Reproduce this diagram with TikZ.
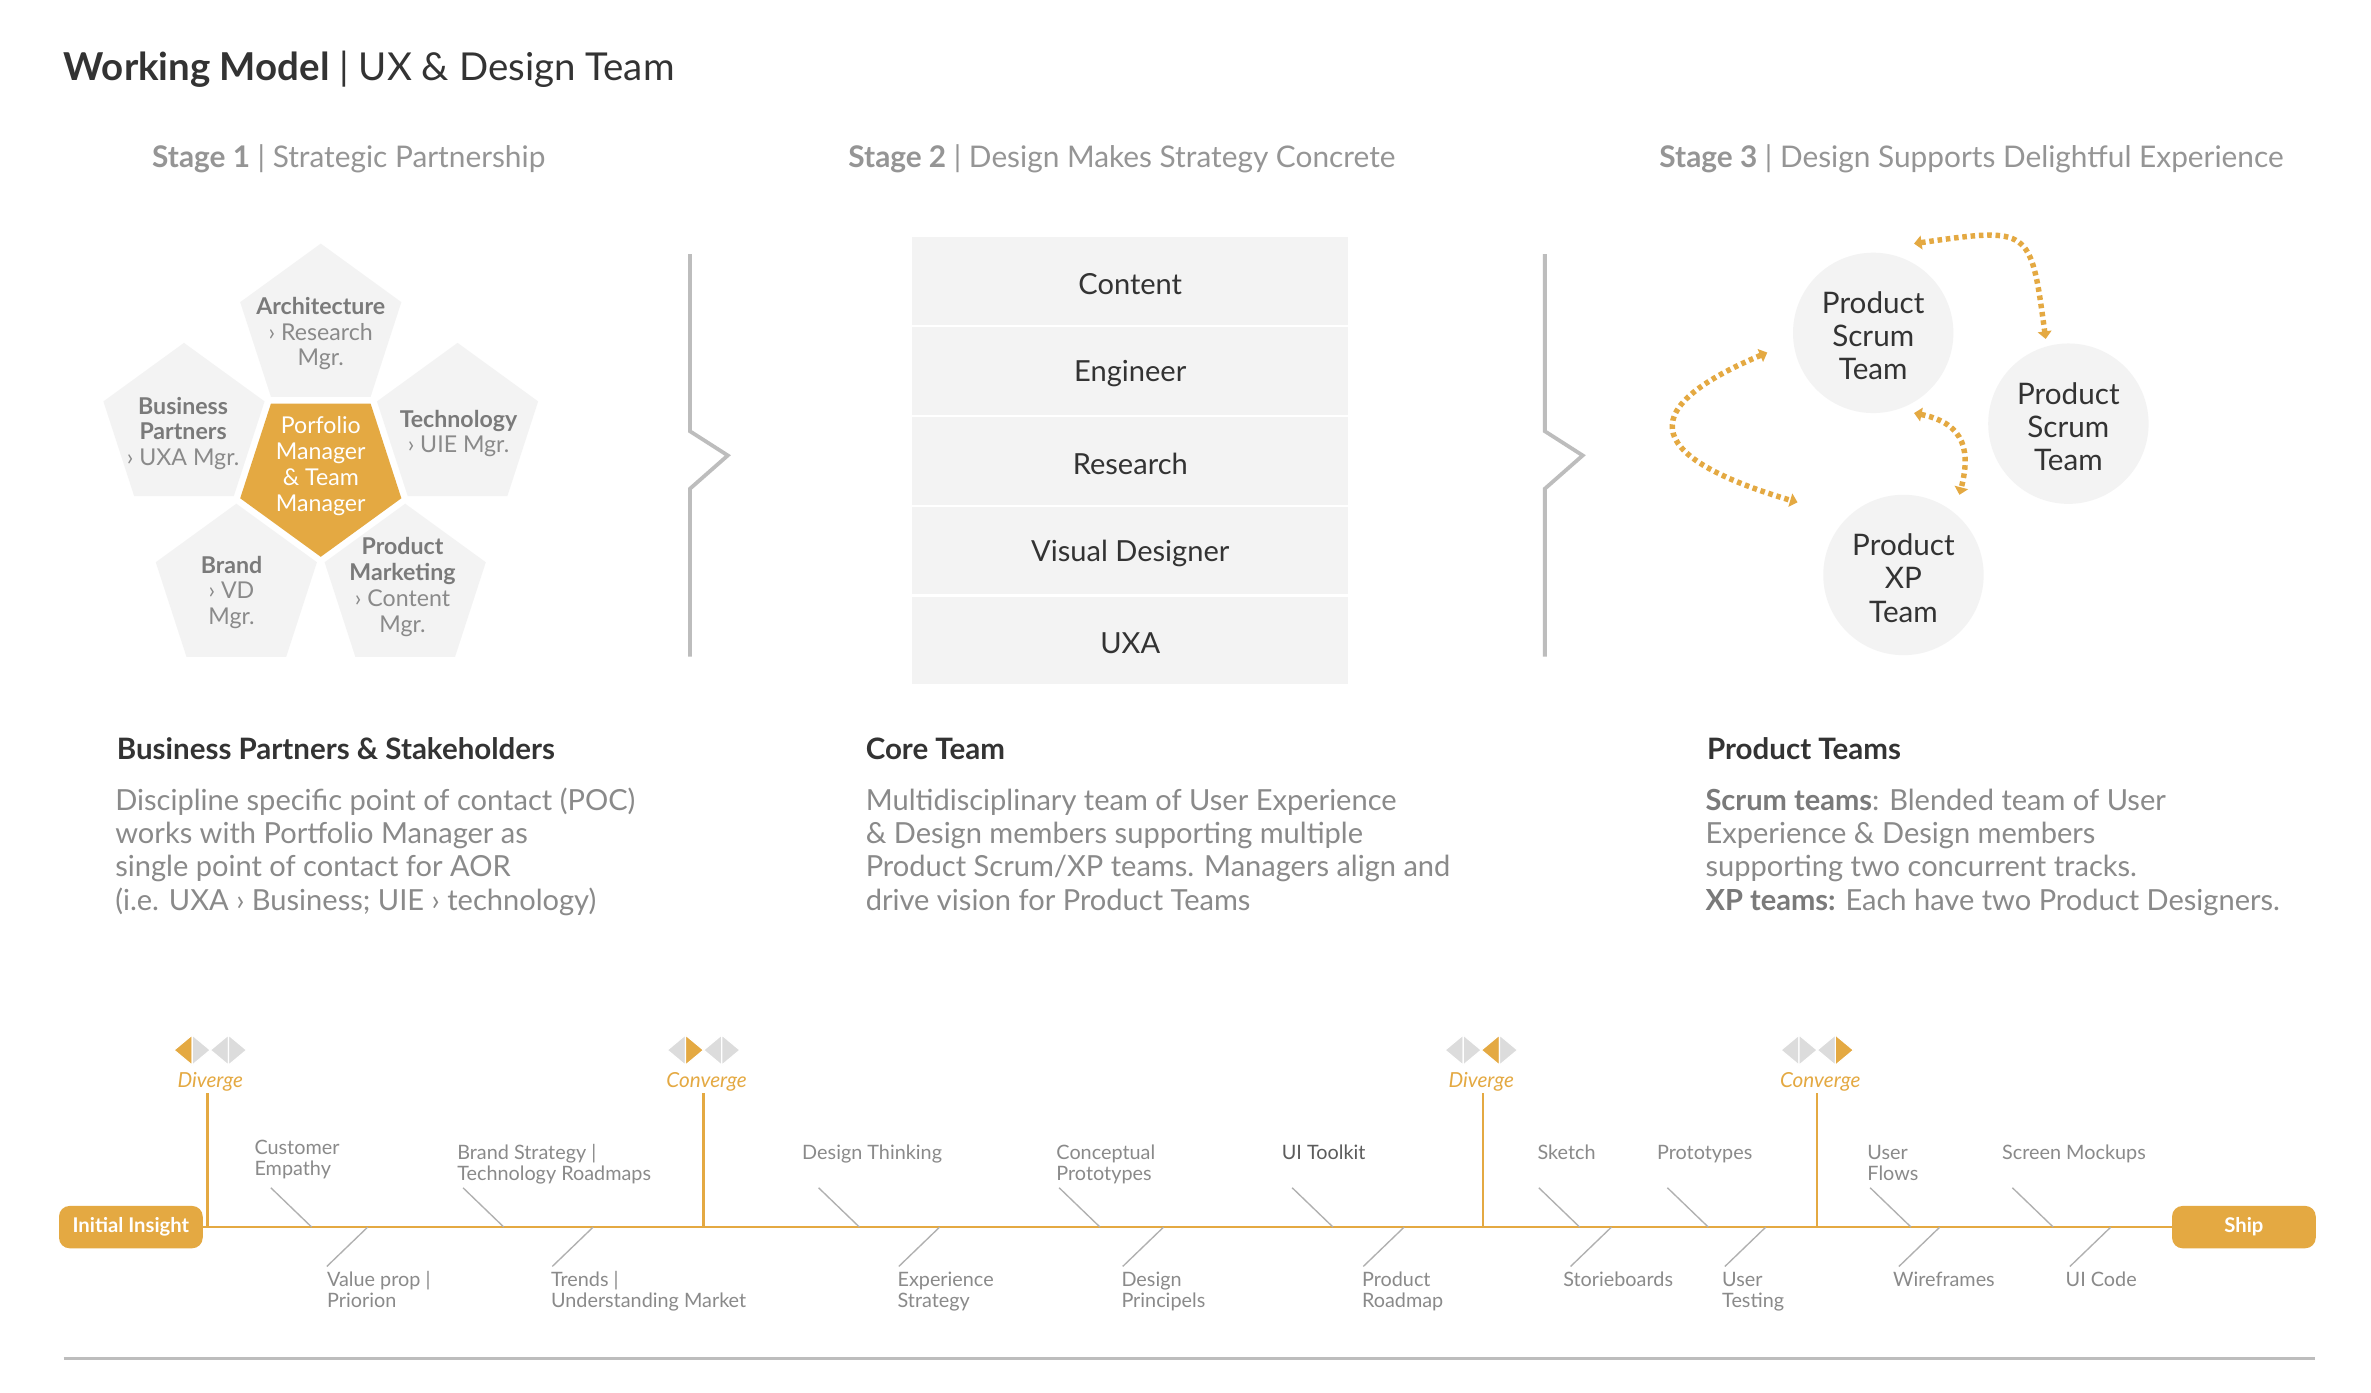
\documentclass[tikz,border=0pt]{standalone}
\usepackage{fontspec}
\setmainfont{Lato}
\usetikzlibrary{shapes.geometric,arrows.meta}
\definecolor{org}{HTML}{E4A942}
\definecolor{lgray}{HTML}{F3F3F3}
\definecolor{dark}{HTML}{333333}
\definecolor{mgray}{HTML}{8A8A8A}
\definecolor{hgray}{HTML}{959595}
\definecolor{pgray}{HTML}{7A7A7A}
\definecolor{sepc}{HTML}{BDBDBD}
\definecolor{tickc}{HTML}{B0B0B0}
\definecolor{dmdg}{HTML}{DCDCDC}
\newcommand{\fsz}[2]{\fontsize{#1}{#2}\selectfont}
\newcommand{\dmdpair}[5]{%
  \filldraw[fill=#2,draw=white,line width=0.8pt] ({#1-24},694) -- ({#1-12},684) -- ({#1-12},704) -- cycle;
  \filldraw[fill=#3,draw=white,line width=0.8pt] ({#1-12},684) -- ({#1},694) -- ({#1-12},704) -- cycle;
  \filldraw[fill=#4,draw=white,line width=0.8pt] ({#1},694) -- ({#1+12},684) -- ({#1+12},704) -- cycle;
  \filldraw[fill=#5,draw=white,line width=0.8pt] ({#1+12},684) -- ({#1+24},694) -- ({#1+12},704) -- cycle;
}
\begin{document}
\begin{tikzpicture}[x=1pt,y=-1pt,
  pent/.style={regular polygon, regular polygon sides=5, minimum size=112pt, inner sep=0pt, outer sep=0pt, fill=lgray},
  ptxt/.style={align=center, text=mgray, font=\fsz{15.3}{17}, inner sep=0pt},
  stagehead/.style={anchor=base, text=hgray, font=\fsz{19.7}{22}, inner sep=0pt},
  cell/.style={fill=lgray, minimum width=288pt, minimum height=58pt, inner sep=0pt, text=dark, font=\fsz{19.2}{22}},
  celltxt/.style={text=dark, font=\fsz{19.2}{22}, inner sep=0pt},
  circ/.style={circle, fill=lgray, minimum size=106pt, inner sep=0pt},
  circtxt/.style={align=center, text=dark, font=\fsz{19.6}{22}, inner sep=0pt},
  sepline/.style={draw=sepc, line width=2.5pt},
  dotarrow/.style={draw=org, line width=3.6pt, dash pattern=on 3pt off 2.5pt, {Triangle[length=5pt,width=9pt]}-{Triangle[length=5pt,width=9pt]}},
  heading/.style={anchor=base west, text=dark, font=\fsz{19.5}{22}\bfseries, inner sep=0pt},
  body/.style={anchor=base west, text=mgray, font=\fsz{19.2}{22}, align=left, inner sep=0pt},
  pill/.style={fill=org, rounded corners=7pt, minimum width=95pt, minimum height=28pt, inner sep=0pt, text=white, font=\fsz{13.4}{14}\bfseries},
  orgline/.style={draw=org, line width=1.6pt},
  phase/.style={text=org, font=\fsz{13.7}{14}\itshape, inner sep=1pt},
  tl/.style={anchor=base west, text=mgray, font=\fsz{13.1}{14}, align=left, inner sep=0pt},
  tickl/.style={draw=tickc, line width=0.9pt}
]
\useasboundingbox (0,0) rectangle (1567,920);
\fill[white] (0,0) rectangle (1567,920);

% title
\node[anchor=base west, inner sep=0pt, text=dark, font=\fsz{25.4}{30}] (title) at (42,53.5) {\textbf{Working Model} | UX \& Design Team};

% stage headers
\node[stagehead] (st1) at (230.5,111) {\textbf{Stage 1} | Strategic Partnership};
\node[stagehead] (st2) at (741.5,111) {\textbf{Stage 2} | Design Makes Strategy Concrete};
\node[stagehead] (st3) at (1303,111) {\textbf{Stage 3} | Design Supports Delightful Experience};

% stage 1 pentagons
\node[pent, fill=org, shape border rotate=180] (pc) at (212,312) {};
\node[pent] (pt) at (212,217) {};
\node[pent] (pr) at (302.4,282.6) {};
\node[pent] (pl) at (121.6,282.6) {};
\node[pent] (pbl) at (156.2,388.9) {};
\node[pent] (pbr) at (267.8,388.9) {};
\node[ptxt, text=white] (pctxt) at (212,308) {Porfolio\\Manager\\\& Team\\Manager};
\node[ptxt] (pttxt) at (212,220.5) {\textcolor{pgray}{\bfseries Architecture}\\› Research\\Mgr.};
\node[ptxt] (pltxt) at (121,286.5) {\textcolor{pgray}{\bfseries Business}\\\textcolor{pgray}{\bfseries Partners}\\› UXA Mgr.};
\node[ptxt] (prtxt) at (303,286.5) {\textcolor{pgray}{\bfseries Technology}\\› UIE Mgr.};
\node[ptxt] (pbltxt) at (153,391.5) {\textcolor{pgray}{\bfseries Brand}\\› VD\\Mgr.};
\node[ptxt] (pbrtxt) at (266,388) {\textcolor{pgray}{\bfseries Product}\\\textcolor{pgray}{\bfseries Marketing}\\› Content\\Mgr.};

% separators
\draw[sepline] (456,168) -- (456,285) -- (481,301) -- (456,323) -- (456,434);
\draw[sepline] (1021,168) -- (1021,285) -- (1046,301) -- (1021,323) -- (1021,434);

% stage 2 table
\node[cell] (c1) at (747,185.7) {};
\node[cell] (c2) at (747,245.1) {};
\node[cell] (c3) at (747,304.5) {};
\node[cell] (c4) at (747,363.9) {};
\node[cell] (c5) at (747,423.3) {};
\node[celltxt] (c1t) at (747,187.5) {Content};
\node[celltxt] (c2t) at (747,246.9) {Engineer};
\node[celltxt] (c3t) at (747,306.3) {Research};
\node[celltxt] (c4t) at (747,365.7) {Visual Designer};
\node[celltxt] (c5t) at (747,425.1) {UXA};

% stage 3 circles
\node[circ] (s1) at (1238,220) {};
\node[circ] (s2) at (1367,280) {};
\node[circ] (s3) at (1258,380) {};
\node[circtxt] (s1t) at (1238,222) {Product\\Scrum\\Team};
\node[circtxt] (s2t) at (1367,282) {Product\\Scrum\\Team};
\node[circtxt] (s3t) at (1258,382) {Product\\XP\\Team};
\coordinate (a1s) at (1265,161);
\coordinate (a1e) at (1352,224);
\coordinate (a2s) at (1168,233);
\coordinate (a2e) at (1188,332);
\coordinate (a3s) at (1265,273);
\coordinate (a3e) at (1295,327);
\draw[dotarrow] (a1s) .. controls (1342,150) .. (a1e);
\draw[dotarrow] (a2s) .. controls (1085,268) and (1080,300) .. (a2e);
\draw[dotarrow] (a3s) .. controls (1300,280) and (1302,300) .. (a3e);

% headings and body
\node[heading] (h1) at (77,502) {Business Partners \& Stakeholders};
\node[heading] (h2) at (572,502) {Core Team};
\node[heading] (h3) at (1128,502) {Product Teams};
\node[body] (b1) at (76,601.5) {Discipline specific point of contact (POC)\\works with Portfolio Manager as\\single point of contact for AOR\\(i.e. UXA › Business; UIE › technology)};
\node[body] (b2) at (572,601.5) {Multidisciplinary team of User Experience\\\& Design members supporting multiple\\Product Scrum/XP teams. Managers align and\\drive vision for Product Teams};
\node[body] (b3) at (1127,601.5) {\textcolor{pgray}{\bfseries Scrum teams}: Blended team of User\\Experience \& Design members\\supporting two concurrent tracks.\\\textcolor{pgray}{\bfseries XP teams:} Each have two Product Designers.};

% timeline
\node[pill] (ii) at (86.5,811) {Initial Insight};
\node[pill] (ship) at (1483,811) {Ship};
\draw[orgline] (ii.east) -- (ship.west);

\dmdpair{139}{org}{dmdg}{dmdg}{dmdg}
\dmdpair{465}{dmdg}{org}{dmdg}{dmdg}
\dmdpair{979}{dmdg}{dmdg}{org}{dmdg}
\dmdpair{1201}{dmdg}{dmdg}{dmdg}{org}
\node[phase] (ph1) at (139,715) {Diverge};
\node[phase] (ph2) at (467,715) {Converge};
\node[phase] (ph3) at (979,715) {Diverge};
\node[phase] (ph4) at (1203,715) {Converge};
\coordinate (pl1) at (137,811);
\coordinate (pl2) at (465,811);
\coordinate (pl3) at (980,811);
\coordinate (pl4) at (1201,811);
\foreach \i in {1,2,3,4} { \draw[orgline] (ph\i.south -| pl\i) -- (pl\i); }

% labels above
\node[tl] (u1) at (168,777) {Customer\\Empathy};
\node[tl] (u2) at (302,780) {Brand Strategy |\\Technology Roadmaps};
\node[tl] (u3) at (530,766) {Design Thinking};
\node[tl] (u4) at (698,780) {Conceptual\\Prototypes};
\node[tl, text=dark!80] (u5) at (847,766) {UI Toolkit};
\node[tl] (u6) at (1016,766) {Sketch};
\node[tl] (u7) at (1095,766) {Prototypes};
\node[tl] (u8) at (1234,780) {User\\Flows};
\node[tl] (u9) at (1323,766) {Screen Mockups};
\foreach \i/\xa in {1/179,2/306,3/541,4/700,5/854,6/1017,7/1102,8/1236,9/1330} {
  \coordinate (ua\i) at (\xa,785);
  \coordinate (ub\i) at (\xa+27,811);
  \draw[tickl] (ua\i) -- (ub\i);
}
% labels below
\node[tl] (d1) at (216,864) {Value prop |\\Priorion};
\node[tl] (d2) at (364,864) {Trends |\\Understanding Market};
\node[tl] (d3) at (593,864) {Experience\\Strategy};
\node[tl] (d4) at (741,864) {Design\\Principels};
\node[tl] (d5) at (900,864) {Product\\Roadmap};
\node[tl] (d6) at (1033,850) {Storieboards};
\node[tl] (d7) at (1138,864) {User\\Testing};
\node[tl] (d8) at (1251,850) {Wireframes};
\node[tl] (d9) at (1365,850) {UI Code};
\foreach \i/\xa in {1/216,2/365,3/594,4/742,5/901,6/1038,7/1140,8/1255,9/1368} {
  \coordinate (da\i) at (\xa,837);
  \coordinate (db\i) at (\xa+27,811);
  \draw[tickl] (da\i) -- (db\i);
}

% bottom rule
\coordinate (br1) at (42,898);
\coordinate (br2) at (1530,898);
\draw[draw=sepc, line width=1.8pt] (br1) -- (br2);
\end{tikzpicture}
\end{document}
